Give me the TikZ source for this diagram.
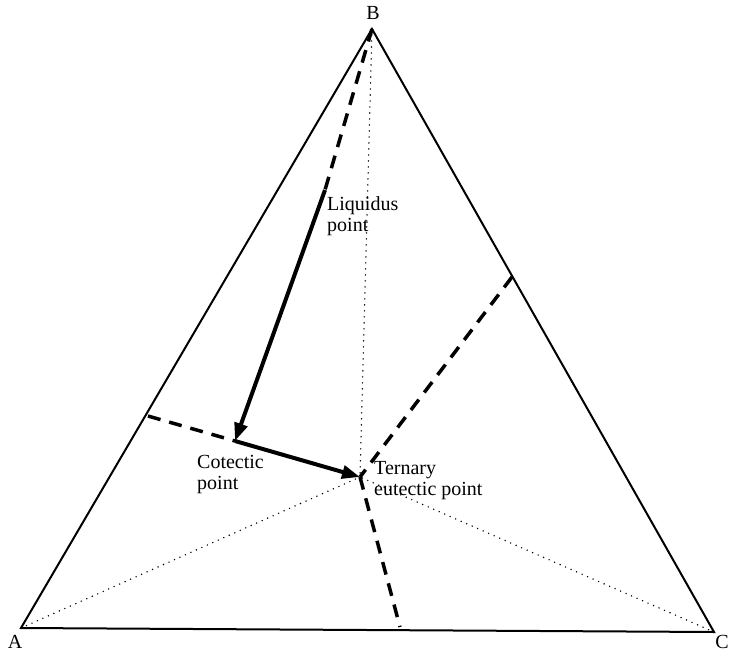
\documentclass[tikz,border=0pt]{standalone}
\usepackage{fontspec}
\setmainfont{Liberation Serif}
\usetikzlibrary{arrows.meta}

\begin{document}
\begin{tikzpicture}[x=1pt, y=-1pt, font=\fontsize{20}{21}\selectfont,
    lbl/.style={inner sep=0pt, align=left, anchor=north west},
    cot/.style={line width=3.5pt, dash pattern=on 13pt off 9pt},
    dots/.style={line width=1.6pt, line cap=round, dash pattern=on 0pt off 6pt},
    path/.style={line width=4pt, -{Triangle[length=18pt, width=13pt]}}]
    \useasboundingbox (0,0) rectangle (730,652);

    % Вершины и точки
    \coordinate (A) at (21,628);
    \coordinate (B) at (372,29);
    \coordinate (C) at (714,632);
    \coordinate (E) at (360,477);
    \coordinate (L) at (325,190);
    \coordinate (K) at (235,441);
    \coordinate (ab) at (148,416);
    \coordinate (bc) at (512,277);
    \coordinate (ac) at (400,627);

    % Треугольник
    \draw[line width=2pt, line join=miter] (A) -- (B) -- (C) -- cycle;

    % Пунктир от вершин к эвтектике
    \draw[dots] (A) -- (E);
    \draw[dots] (B) -- (E);
    \draw[dots] (C) -- (E);

    % Котектические линии
    \draw[cot] (B) -- (L);
    \draw[cot] (ab) -- (K);
    \draw[cot] (bc) -- (E);
    \draw[cot] (E) -- (ac);

    % Путь кристаллизации
    \draw[path] (L) -- (K);
    \draw[path] (K) -- (E);

    \node (nA) at (15,642) {A};
    \node (nB) at (373,13) {B};
    \node (nC) at (722,642) {C};
    \node[lbl] (nL) at (327,196) {Liquidus\\point};
    \node[lbl] (nK) at (197,455) {Cotectic\\point};
    \node[lbl] (nE) at (374,461) {Ternary\\eutectic point};
\end{tikzpicture}
\end{document}
